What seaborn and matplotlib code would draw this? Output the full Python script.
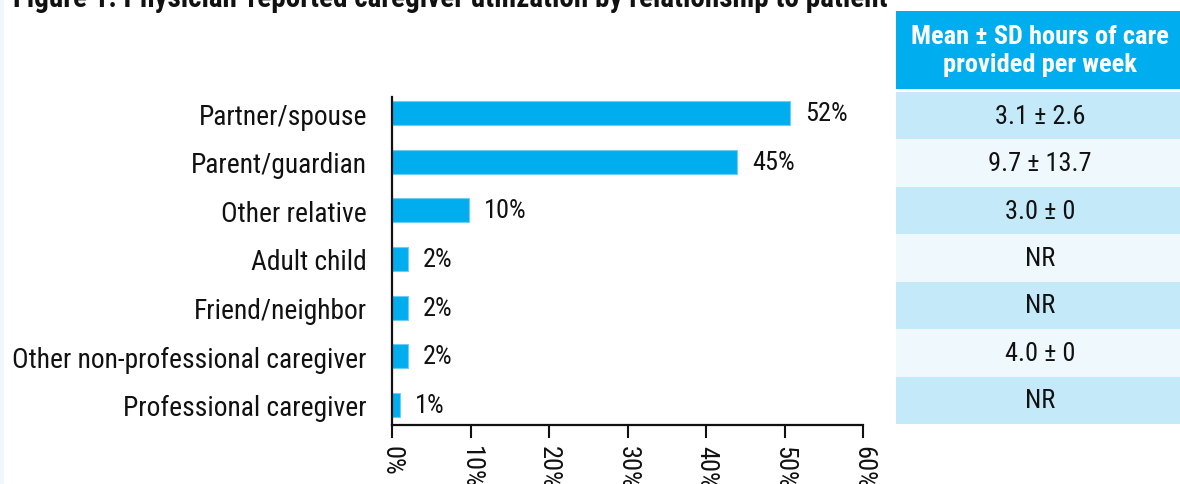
import matplotlib
matplotlib.use("Agg")
import matplotlib.pyplot as plt
import seaborn as sns
import pandas as pd

# data
relationships = ["Partner/spouse", "Parent/guardian", "Other relative", "Adult child",
                 "Friend/neighbor", "Other non-professional caregiver", "Professional caregiver"]
pct_bar = [50.7, 43.9, 9.8, 2.0, 2.0, 2.0, 1.0]
pct_labels = ["52%", "45%", "10%", "2%", "2%", "2%", "1%"]
hours_care = ["3.1 \u00b1 2.6", "9.7 \u00b1 13.7", "3.0 \u00b1 0", "NR", "NR", "4.0 \u00b1 0", "NR"]
x_ticks = [0, 10, 20, 30, 40, 50, 60]
title = "Figure 1. Physician-reported caregiver utilization by relationship to patient"
table_header = "Mean \u00b1 SD hours of care\nprovided per week"

BLUE = "#00AEEF"
ROW_A = "#C4EAF9"
ROW_B = "#EEF8FD"

sns.set_theme(style="white")
plt.rcParams["font.family"] = ["Roboto Condensed", "DejaVu Sans"]

W, H = 1180, 485
fig = plt.figure(figsize=(W / 100, H / 100), dpi=100)


def px_axes(x0, y0, x1, y1):
    # axes from pixel box (top-left origin)
    return fig.add_axes([x0 / W, 1 - y1 / H, (x1 - x0) / W, (y1 - y0) / H])


# thin light strip on the left edge
strip = px_axes(0, 0, 4, H)
strip.set_facecolor(ROW_B)
strip.set_xticks([])
strip.set_yticks([])
for s in strip.spines.values():
    s.set_visible(False)

# bar chart
df = pd.DataFrame({"relationship": relationships, "pct": pct_bar})
ax = px_axes(392, 89.7, 863, 426.4)
sns.barplot(data=df, x="pct", y="relationship", orient="h", color=BLUE,
            width=0.49, edgecolor="#6FCDF2", linewidth=0.8, saturation=1, ax=ax)
ax.set_xlim(0, 60)
ax.set_ylim(6.42, -0.5)
ax.set_xlabel("")
ax.set_ylabel("")
ax.set_xticks(x_ticks)
ax.set_xticklabels([f"{t}%" for t in x_ticks], rotation=-90, fontsize=19, color="#111111")
ax.tick_params(axis="x", length=9, width=1.5, color="#111111", pad=5, bottom=True)
ax.tick_params(axis="y", length=0, pad=18, labelsize=19.8, labelcolor="#111111")
for side in ["top", "right"]:
    ax.spines[side].set_visible(False)
for side in ["left", "bottom"]:
    ax.spines[side].set_linewidth(1.6)
    ax.spines[side].set_color("#111111")
ax.spines["left"].set_bounds(-0.33, 6.42)
ax.bar_label(ax.containers[0], labels=pct_labels, padding=11, fontsize=19, color="#111111")
ax.set_facecolor("none")

# table header
hx = px_axes(896, 12, 1184, 90)
hx.set_facecolor(BLUE)
hx.set_xticks([])
hx.set_yticks([])
for s in hx.spines.values():
    s.set_visible(False)
hx.text(0.5, 0.5, table_header, ha="center", va="center", color="white",
        fontsize=19, fontweight="bold", linespacing=1.25, transform=hx.transAxes)

# table rows
tx = px_axes(896, 93, 1184, 425)
tx.set_xlim(0, 1)
tx.set_ylim(len(hours_care), 0)
for i, val in enumerate(hours_care):
    tx.axhspan(i, i + 1, color=ROW_A if i % 2 == 0 else ROW_B, lw=0)
    tx.text(0.5, i + 0.5, val, ha="center", va="center", fontsize=19, color="#111111")
tx.set_xticks([])
tx.set_yticks([])
for s in tx.spines.values():
    s.set_visible(False)

# title, partly cut at the top like in the reference
fig.text(13 / W, 1 - 7 / H, title, ha="left", va="baseline", fontsize=21,
         fontweight="bold", color="#111111")

fig.savefig("out.png", dpi=100)
